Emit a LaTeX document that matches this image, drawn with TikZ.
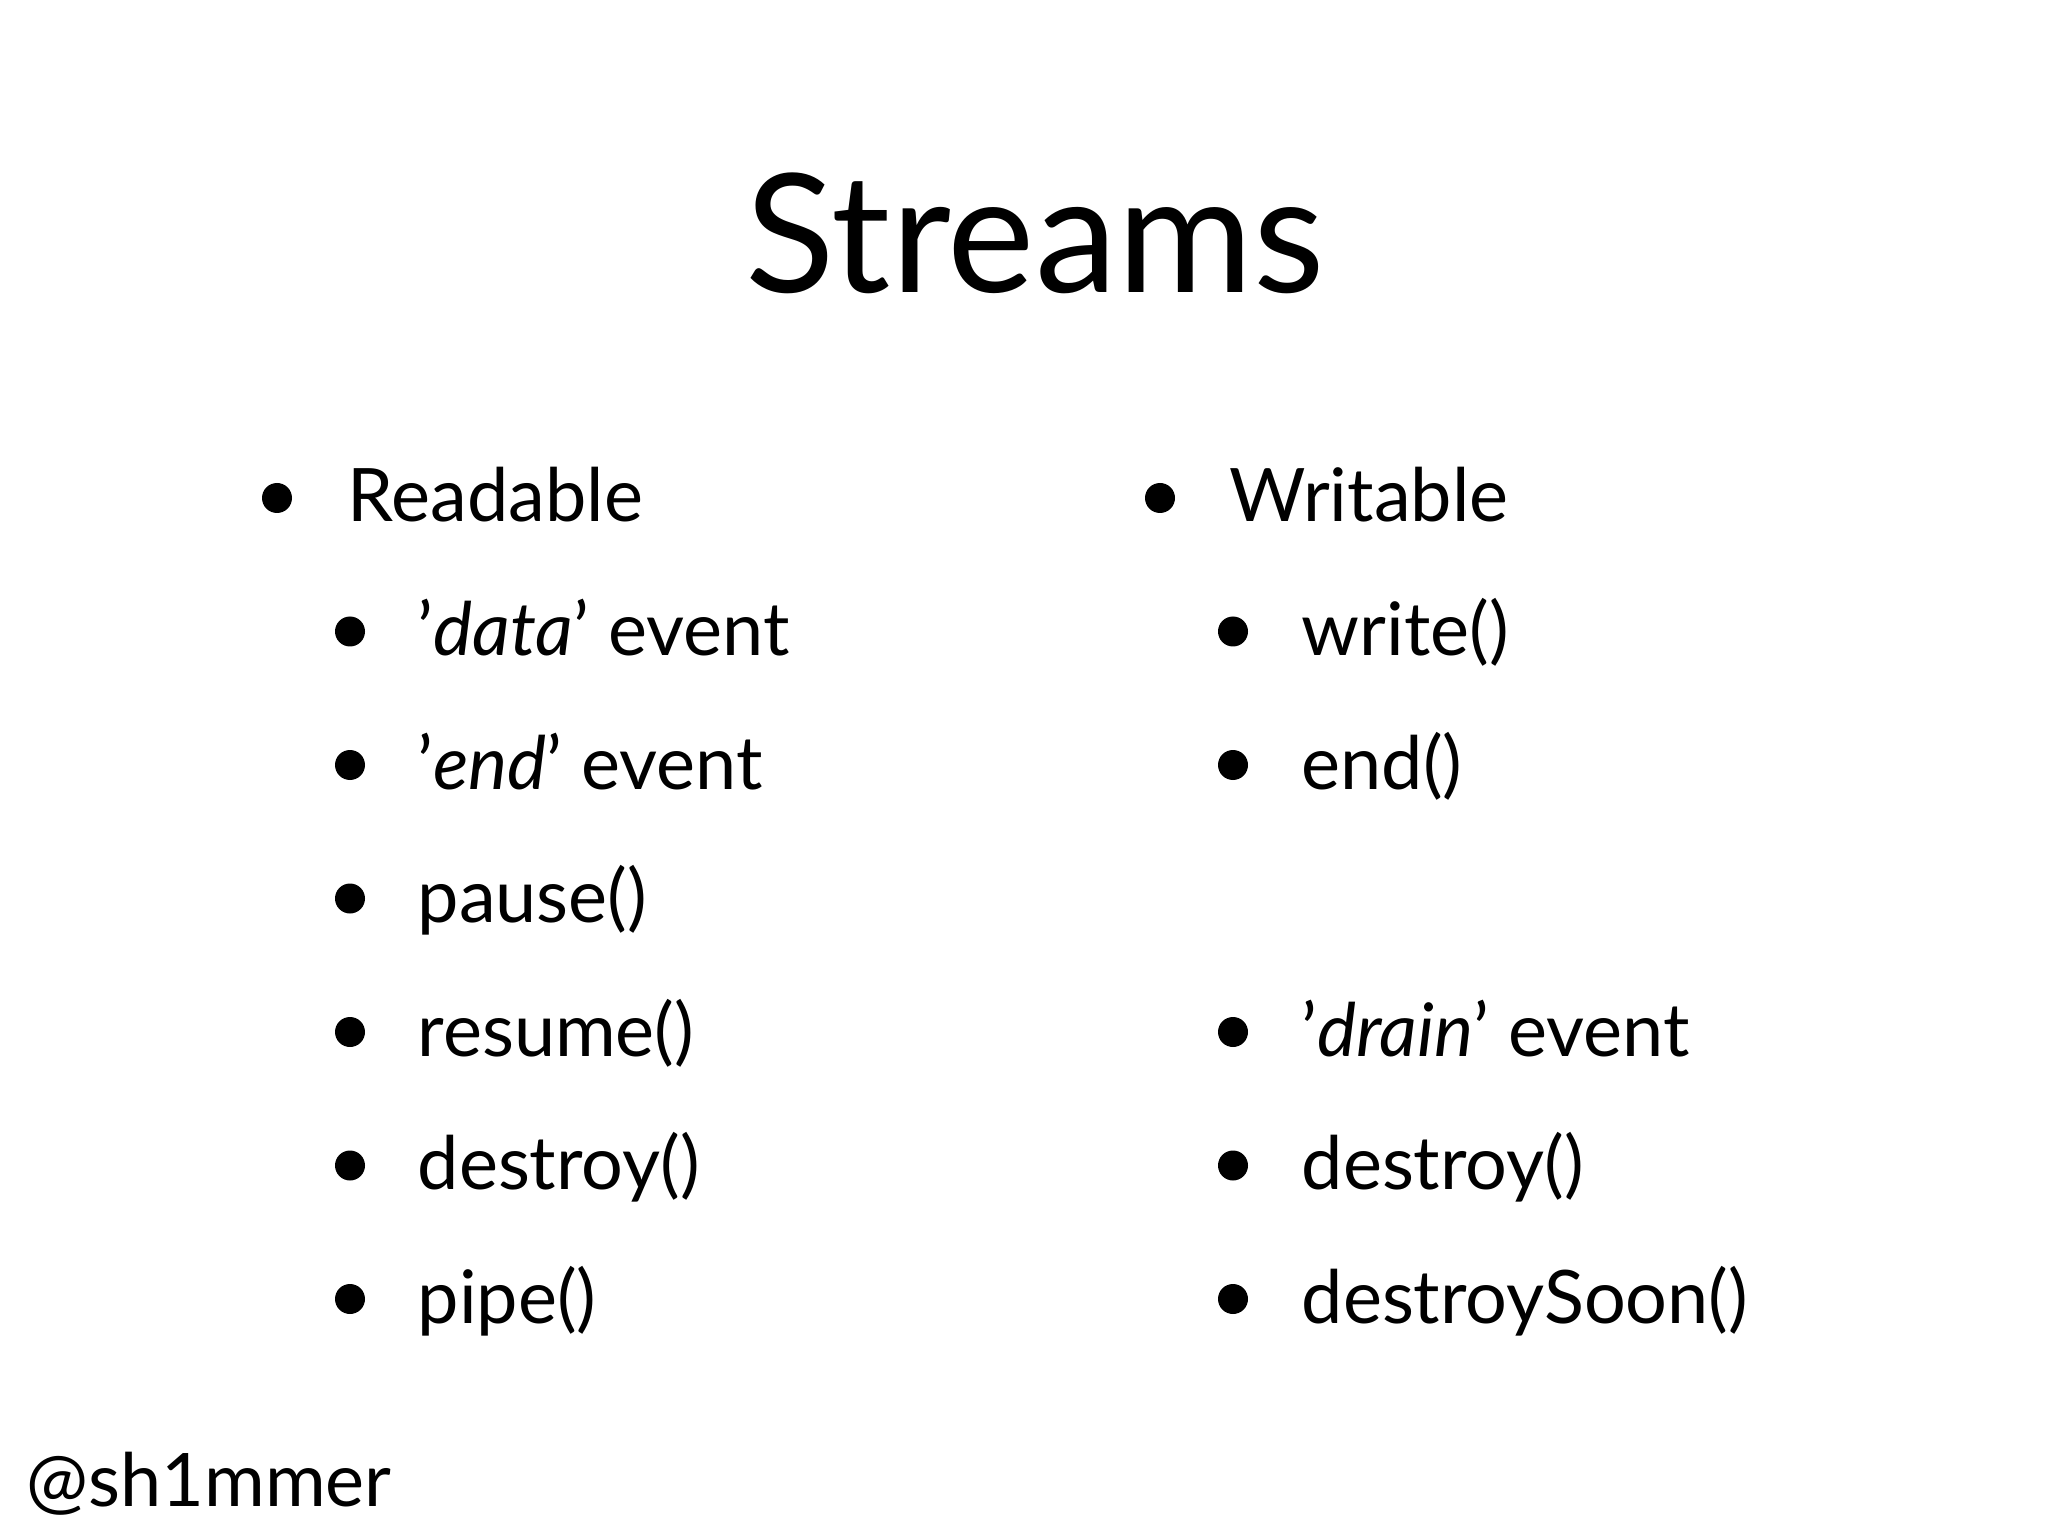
\documentclass[tikz,border=0pt]{standalone}
\usepackage{fontspec}
\setmainfont{Lato}
\usetikzlibrary{positioning}

\begin{document}
\begin{tikzpicture}[x=1cm,y=1cm,
  item/.style={anchor=base west,inner sep=0pt,font=\fontsize{21}{25}\selectfont},
  dot/.style={circle,fill=black,inner sep=0pt,minimum size=0.3cm}]
  \useasboundingbox (0,0) rectangle (20.48,-15.36);

  \node[anchor=base,inner sep=0pt,font=\fontsize{47}{56}\selectfont] (title) at (10.35,-2.93) {Streams};

  % readable column
  \node[dot] (rb0) at (2.77,-4.98) {};
  \node[item] (r0) at (3.47,-5.22) {Readable};
  \foreach \t [count=\i] in {'\textit{data}' event,'\textit{end}' event,pause(),resume(),destroy(),pipe()}{
    \node[dot] (rb\i) at (3.50,{-4.98-1.335*\i}) {};
    \node[item] (r\i) at (4.17,{-5.22-1.335*\i}) {\t};
  }

  % writable column
  \node[dot] (wb0) at (11.60,-4.98) {};
  \node[item] (w0) at (12.29,-5.22) {Writable};
  \foreach \t/\i in {write()/1,end()/2,'\textit{drain}' event/4,destroy()/5,destroySoon()/6}{
    \node[dot] (wb\i) at (12.33,{-4.98-1.335*\i}) {};
    \node[item] (w\i) at (13.01,{-5.22-1.335*\i}) {\t};
  }

  \node[item] (handle) at (0.26,-15.06) {@sh1mmer};
\end{tikzpicture}
\end{document}
